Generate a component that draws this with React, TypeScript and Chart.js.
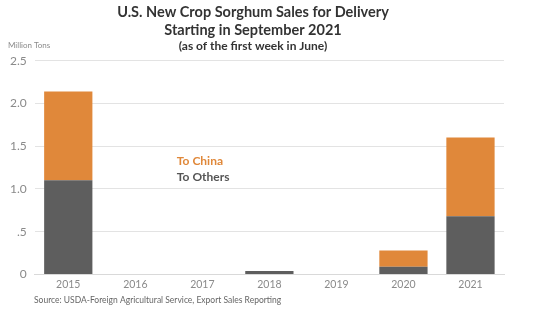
import React, { useEffect, useRef } from "react";
import { Chart, registerables } from "chart.js";

Chart.register(...registerables);

const categories = ["2015", "2016", "2017", "2018", "2019", "2020", "2021"];
const toOthers = [1.1, 0.005, 0.005, 0.04, 0.005, 0.09, 0.68];
const toChina = [1.04, 0, 0, 0, 0, 0.19, 0.92];
const yTicks = [0, 0.5, 1.0, 1.5, 2.0, 2.5];
const tickLabels: Record<string, string> = { "0": "0", "0.5": ".5", "1": "1.0", "1.5": "1.5", "2": "2.0", "2.5": "2.5" };

const FONT = "Lato, 'Open Sans', sans-serif";

export default function App() {
  const ref = useRef<HTMLCanvasElement>(null);
  useEffect(() => {
    document.body.style.margin = "0";
    const textPlugin = {
      id: "extraText",
      afterDraw(chart: any) {
        const ctx = chart.ctx;
        const x = chart.scales.x;
        const y = chart.scales.y;
        ctx.save();
        ctx.textBaseline = "middle";
        ctx.textAlign = "left";
        ctx.font = `8px ${FONT}`;
        ctx.fillStyle = "#8a8a8a";
        ctx.fillText("Million Tons", 8, 45);
        ctx.font = `bold 12px ${FONT}`;
        ctx.fillStyle = "#E0883A";
        const lx = (x.getPixelForValue(1) + x.getPixelForValue(2)) / 2 + 8;
        ctx.fillText("To China", lx, y.getPixelForValue(1.32));
        ctx.fillStyle = "#555555";
        ctx.fillText("To Others", lx, y.getPixelForValue(1.14));
        ctx.font = `8.5px ${FONT}`;
        ctx.fillStyle = "#666666";
        ctx.fillText("Source: USDA-Foreign Agricultural Service, Export Sales Reporting", 34, 300);
        ctx.restore();
      },
    };
    const chart = new Chart(ref.current!, {
      type: "bar",
      data: {
        labels: categories,
        datasets: [
          { label: "To Others", data: toOthers, backgroundColor: "#5E5E5E", barPercentage: 0.72, categoryPercentage: 1 },
          { label: "To China", data: toChina, backgroundColor: "#E0883A", barPercentage: 0.72, categoryPercentage: 1 },
        ],
      },
      options: {
        animation: false,
        responsive: false,
        maintainAspectRatio: false,
        layout: { padding: { left: 2, right: 33, top: 0, bottom: 27 } },
        plugins: {
          legend: { display: false },
          tooltip: { enabled: false },
          title: {
            display: true,
            text: ["U.S. New Crop Sorghum Sales for Delivery", "Starting in September 2021"],
            color: "#333333",
            font: { family: FONT, size: 14.5, weight: "bold", lineHeight: 1.25 },
            padding: { top: 3, bottom: 0 },
          },
          subtitle: {
            display: true,
            text: "(as of the first week in June)",
            color: "#333333",
            font: { family: FONT, size: 12, weight: "bold" },
            padding: { top: 0, bottom: 7 },
          },
        },
        scales: {
          x: {
            stacked: true,
            grid: { display: false, drawTicks: false },
            border: { display: true, color: "#d9d9d9" },
            ticks: { color: "#8a8a8a", font: { family: FONT, size: 10.5 }, padding: 4 },
          },
          y: {
            stacked: true,
            min: 0,
            max: 2.5,
            afterBuildTicks(axis: any) {
              axis.ticks = yTicks.map((v) => ({ value: v }));
            },
            grid: { color: "#e3e3e3", drawTicks: false },
            border: { display: false },
            ticks: {
              color: "#8a8a8a",
              font: { family: FONT, size: 12 },
              padding: 8,
              callback: (v: any) => tickLabels[String(v)] ?? "",
            },
          },
        },
      },
      plugins: [textPlugin],
    });
    return () => chart.destroy();
  }, []);
  return (
    <div style={{ position: "absolute", left: 0, top: 0, width: 537, height: 322, background: "#fff" }}>
      <canvas ref={ref} width={537} height={322} />
    </div>
  );
}
